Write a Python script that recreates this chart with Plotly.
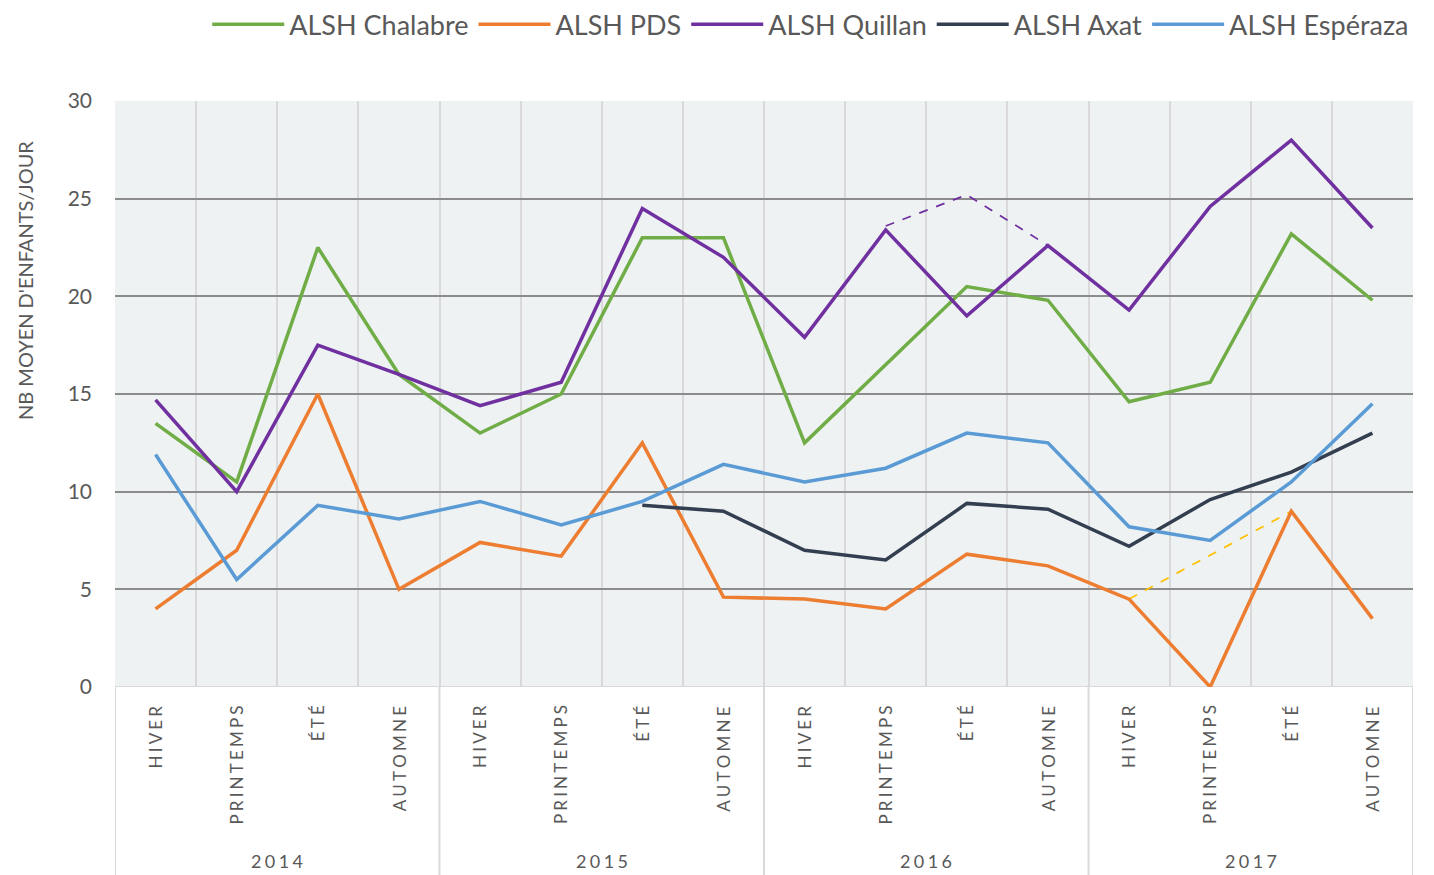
import plotly.graph_objects as go

years = ["2014", "2015", "2016", "2017"]
seasons = ["HIVER", "PRINTEMPS", "ÉTÉ", "AUTOMNE"]

chalabre = [13.5, 10.5, 22.5, 16.0, 13.0, 15.0, 23.0, 23.0, 12.5, 16.5, 20.5, 19.8, 14.6, 15.6, 23.2, 19.8]
pds = [4.0, 7.0, 15.0, 5.0, 7.4, 6.7, 12.5, 4.6, 4.5, 4.0, 6.8, 6.2, 4.5, 0.0, 9.0, 3.5]
quillan = [14.7, 10.0, 17.5, 16.0, 14.4, 15.6, 24.5, 22.0, 17.9, 23.4, 19.0, 22.6, 19.3, 24.6, 28.0, 23.5]
axat = [None, None, None, None, None, None, 9.3, 9.0, 7.0, 6.5, 9.4, 9.1, 7.2, 9.6, 11.0, 13.0]
esperaza = [11.9, 5.5, 9.3, 8.6, 9.5, 8.3, 9.5, 11.4, 10.5, 11.2, 13.0, 12.5, 8.2, 7.5, 10.5, 14.5]
quillan_dash = [None] * 9 + [23.6, 25.2, 22.6] + [None] * 4
pds_dash = [None] * 12 + [4.5, None, 9.0, None]

x = list(range(16))
grey = "#595959"
FONT = "Lato"
TS = "\u2009\u200a"  # thin + hair space used as letter spacing


def spaced(s):
    return TS.join(list(s))


fig = go.Figure()

# dashed helper lines (not in legend)
fig.add_trace(go.Scatter(x=x, y=quillan_dash, mode="lines", showlegend=False, connectgaps=False,
                         line=dict(color="#7030A0", width=1.75, dash="dash"), hoverinfo="skip"))
fig.add_trace(go.Scatter(x=x, y=pds_dash, mode="lines", showlegend=False, connectgaps=True,
                         line=dict(color="#FFC000", width=1.75, dash="dash"), hoverinfo="skip"))

series = [
    ("ALSH Chalabre", chalabre, "#70AD47"),
    ("ALSH PDS", pds, "#ED7D31"),
    ("ALSH Quillan", quillan, "#7030A0"),
    ("ALSH Axat", axat, "#333F50"),
    ("ALSH Espéraza", esperaza, "#5B9BD5"),
]
for name, vals, col in series:
    fig.add_trace(go.Scatter(x=x, y=vals, mode="lines", name=name,
                             line=dict(color=col, width=3.5)))

annotations = []
for i in range(16):
    annotations.append(dict(x=i, y=-0.028, xref="x", yref="paper", text=spaced(seasons[i % 4]),
                            textangle=-90, showarrow=False, xanchor="center", yanchor="top",
                            font=dict(family=FONT, size=17, color=grey)))
for j, yr in enumerate(years):
    annotations.append(dict(x=j * 4 + 1.5, y=-0.297, xref="x", yref="paper", text=spaced(yr),
                            showarrow=False, xanchor="center", yanchor="middle",
                            font=dict(family=FONT, size=18, color=grey)))
annotations.append(dict(x=-0.0693, y=0.693, xref="paper", yref="paper",
                        text="NB MOYEN D'ENFANTS/JOUR", textangle=-90, showarrow=False,
                        xanchor="center", yanchor="middle",
                        font=dict(family=FONT, size=20, color=grey)))

shapes = []
for b in [-0.5, 3.5, 7.5, 11.5, 15.5]:
    shapes.append(dict(type="line", xref="x", yref="paper", x0=b, x1=b, y0=0, y1=-0.33,
                       line=dict(color="#D9D9D9", width=2)))

fig.update_layout(
    width=1426, height=867,
    margin=dict(l=107, r=21, t=93, b=188, autoexpand=False),
    paper_bgcolor="white",
    plot_bgcolor="#EEF2F3",
    font=dict(family=FONT, color=grey),
    legend=dict(orientation="h", x=0.536, xanchor="center", y=1.13, yanchor="middle",
                font=dict(family=FONT, size=27, color=grey), itemwidth=72,
                bgcolor="rgba(0,0,0,0)"),
    xaxis=dict(range=[-0.5, 15.5], tickvals=[i + 0.5 for i in range(-1, 16)],
               ticktext=[""] * 17, showgrid=True, gridcolor="#D9D9D9", gridwidth=2,
               zeroline=False, showline=False, ticks="", fixedrange=True),
    yaxis=dict(range=[0, 30], tickvals=[0, 5, 10, 15, 20, 25, 30], showgrid=True,
               gridcolor="#8C8C8C", gridwidth=2, zeroline=False, showline=False,
               ticks="", ticklabelstandoff=22,
               tickfont=dict(family=FONT, size=21, color=grey)),
    annotations=annotations,
    shapes=shapes,
)
# x-axis baseline
fig.add_shape(type="line", xref="paper", yref="y", x0=0, x1=1, y0=0, y1=0,
              line=dict(color="#D9D9D9", width=2), layer="below")

fig.write_html("out.html")
